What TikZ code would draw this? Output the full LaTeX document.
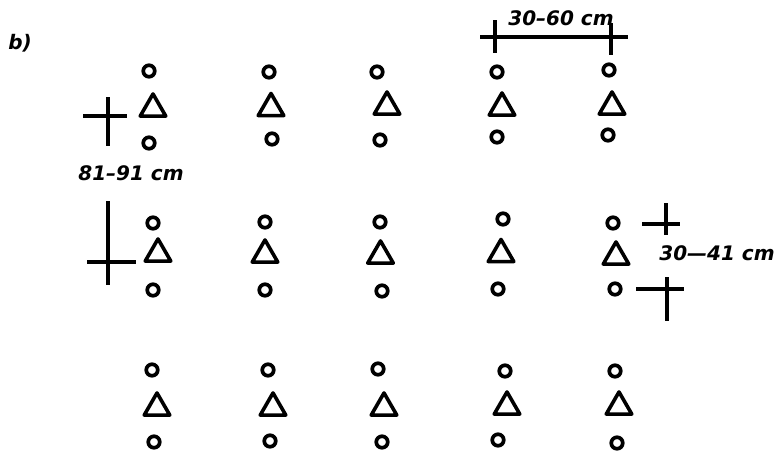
\documentclass[tikz,border=0pt]{standalone}
\usepackage{fontspec}
\setmainfont{DejaVu Sans}
\usetikzlibrary{shapes.geometric}
\tikzset{
  ring/.style={circle,draw,line width=3.7pt,minimum size=11.5pt,inner sep=0pt},
  tri/.style={regular polygon,regular polygon sides=3,draw,line width=3.6pt,minimum size=29.5pt,inner sep=0pt,line join=round},
  tickline/.style={line width=3.1pt},
  lbl/.style={font=\bfseries\itshape\fontsize{20}{22}\selectfont,inner sep=0pt}
}
\begin{document}
\begin{tikzpicture}[x=1pt,y=-1pt]
\useasboundingbox (0,0) rectangle (778,456);
% row 1
\node[ring] (a1) at (149,71) {};  \node[tri] (t1) at (153,108.7) {}; \node[ring] (b1) at (149,143) {};
\node[ring] (a2) at (269,72) {};  \node[tri] (t2) at (271,108.2) {}; \node[ring] (b2) at (272,139) {};
\node[ring] (a3) at (377,72) {};  \node[tri] (t3) at (387,106.7) {}; \node[ring] (b3) at (380,140) {};
\node[ring] (a4) at (497,72) {};  \node[tri] (t4) at (502,107.7) {}; \node[ring] (b4) at (497,137) {};
\node[ring] (a5) at (609,70) {};  \node[tri] (t5) at (612,106.7) {}; \node[ring] (b5) at (608,135) {};
% row 2
\node[ring] (c1) at (153,223) {}; \node[tri] (u1) at (158,253.7) {}; \node[ring] (d1) at (153,290) {};
\node[ring] (c2) at (265,222) {}; \node[tri] (u2) at (265,254.7) {}; \node[ring] (d2) at (265,290) {};
\node[ring] (c3) at (380,222) {}; \node[tri] (u3) at (380.5,255.7) {}; \node[ring] (d3) at (382,291) {};
\node[ring] (c4) at (503,219) {}; \node[tri] (u4) at (501,254.2) {}; \node[ring] (d4) at (498,289) {};
\node[ring] (c5) at (613,223) {}; \node[tri] (u5) at (616,256.7) {}; \node[ring] (d5) at (615,289) {};
% row 3
\node[ring] (e1) at (152,370) {}; \node[tri] (v1) at (157,407.7) {}; \node[ring] (f1) at (154,442) {};
\node[ring] (e2) at (268,370) {}; \node[tri] (v2) at (273,407.7) {}; \node[ring] (f2) at (270,441) {};
\node[ring] (e3) at (378,369) {}; \node[tri] (v3) at (384,407.7) {}; \node[ring] (f3) at (382,442) {};
\node[ring] (e4) at (505,371) {}; \node[tri] (v4) at (507,406.7) {}; \node[ring] (f4) at (498,440) {};
\node[ring] (e5) at (615,371) {}; \node[tri] (v5) at (619,406.7) {}; \node[ring] (f5) at (617,443) {};
% labels
\node[lbl] (lb) at (20,43) {b)};
\node[lbl] (l1) at (131,173) {81–91 cm};
\node[lbl] (l2) at (561,18) {30–60 cm};
\node[lbl] (l3) at (717,253) {30—41 cm};
% cross marks
\coordinate (p1) at (83,116); \coordinate (p2) at (127,116);
\coordinate (p3) at (108,97); \coordinate (p4) at (108,146);
\draw[tickline] (p1) -- (p2); \draw[tickline] (p3) -- (p4);
\coordinate (q1) at (108,201); \coordinate (q2) at (108,285);
\coordinate (q3) at (87,262); \coordinate (q4) at (136,262);
\draw[tickline] (q1) -- (q2); \draw[tickline] (q3) -- (q4);
\coordinate (r1) at (480,37); \coordinate (r2) at (628,37);
\coordinate (r3) at (495,20); \coordinate (r4) at (495,53);
\coordinate (r5) at (611,23); \coordinate (r6) at (611,55);
\draw[tickline] (r1) -- (r2); \draw[tickline] (r3) -- (r4); \draw[tickline] (r5) -- (r6);
\coordinate (s1) at (642,224); \coordinate (s2) at (680,224);
\coordinate (s3) at (666,203); \coordinate (s4) at (666,235);
\coordinate (s5) at (636,289); \coordinate (s6) at (684,289);
\coordinate (s7) at (667,277); \coordinate (s8) at (667,321);
\draw[tickline] (s1) -- (s2); \draw[tickline] (s3) -- (s4);
\draw[tickline] (s5) -- (s6); \draw[tickline] (s7) -- (s8);
\end{tikzpicture}
\end{document}
